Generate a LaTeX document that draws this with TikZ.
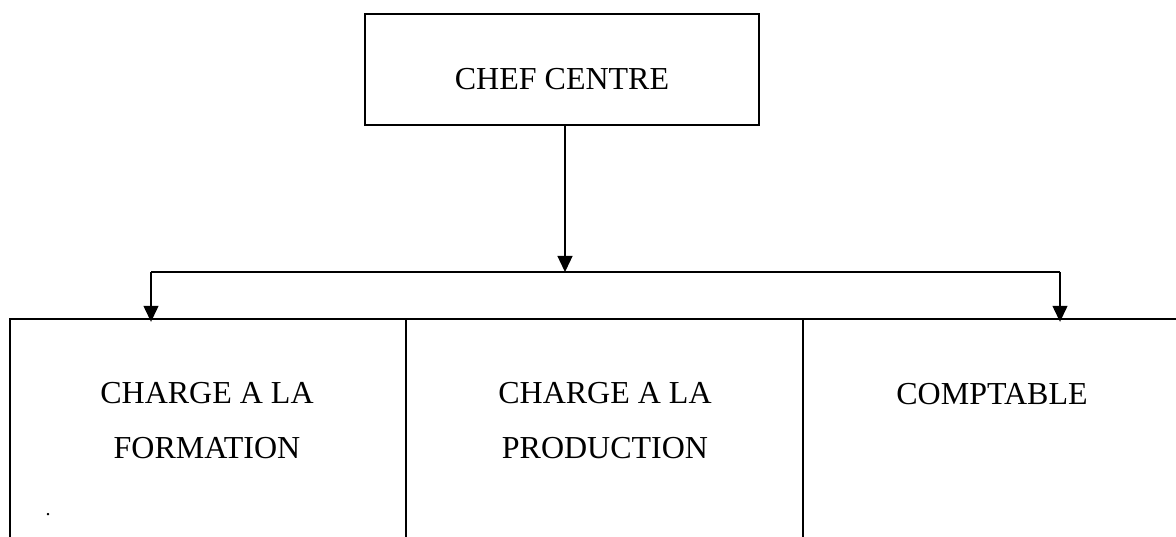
\documentclass[tikz,border=0pt]{standalone}
\usepackage{fontspec}
\setmainfont{Liberation Serif}
\usetikzlibrary{arrows.meta}
\begin{document}
\begin{tikzpicture}[x=1pt,y=-1pt,
  frame/.style={line width=1.5pt, draw=black},
  arr/.style={line width=1.3pt, -{Triangle[length=16pt,width=15pt]}},
  lbl/.style={anchor=base, inner sep=0pt, font=\fontsize{32}{38}\selectfont}]
\useasboundingbox (0,0) rectangle (1176,537);
% top box
\node[frame, minimum width=394pt, minimum height=111pt, inner sep=0pt] (chef) at (562,69.5) {};
\node[lbl] (cheft) at (562,90) {CHEF CENTRE};
% bottom cells (open at bottom)
\node[inner sep=0pt, minimum width=396pt, minimum height=218pt] (form) at (208,428) {};
\node[inner sep=0pt, minimum width=397pt, minimum height=218pt] (prod) at (604.5,428) {};
\node[inner sep=0pt, minimum width=373pt, minimum height=218pt] (comp) at (989.5,428) {};
\draw[frame] (10,537) -- (10,319) -- (1176,319);
\draw[frame] (406,319) -- (406,537);
\draw[frame] (803,319) -- (803,537);
% labels
\node[lbl] (f1) at (207,403) {CHARGE A LA};
\node[lbl] (f2) at (207,458) {FORMATION};
\node[lbl] (p1) at (605,403) {CHARGE A LA};
\node[lbl] (p2) at (605,458) {PRODUCTION};
\node[lbl] (c1) at (992,404) {COMPTABLE};
\node[anchor=base, inner sep=0pt, font=\fontsize{20}{22}\selectfont] (dot) at (48,515) {.};
% connectors
\coordinate (bus) at (565,272);
\coordinate (busL) at (151,272);
\coordinate (busR) at (1060,272);
\draw[arr] (chef.south -| bus) -- (bus);
\draw[line width=1.3pt] (busL) -- (busR);
\draw[arr, shorten >=-3pt] (busL) -- (busL |- form.north);
\draw[arr, shorten >=-3pt] (busR) -- (busR |- comp.north);
\end{tikzpicture}
\end{document}
